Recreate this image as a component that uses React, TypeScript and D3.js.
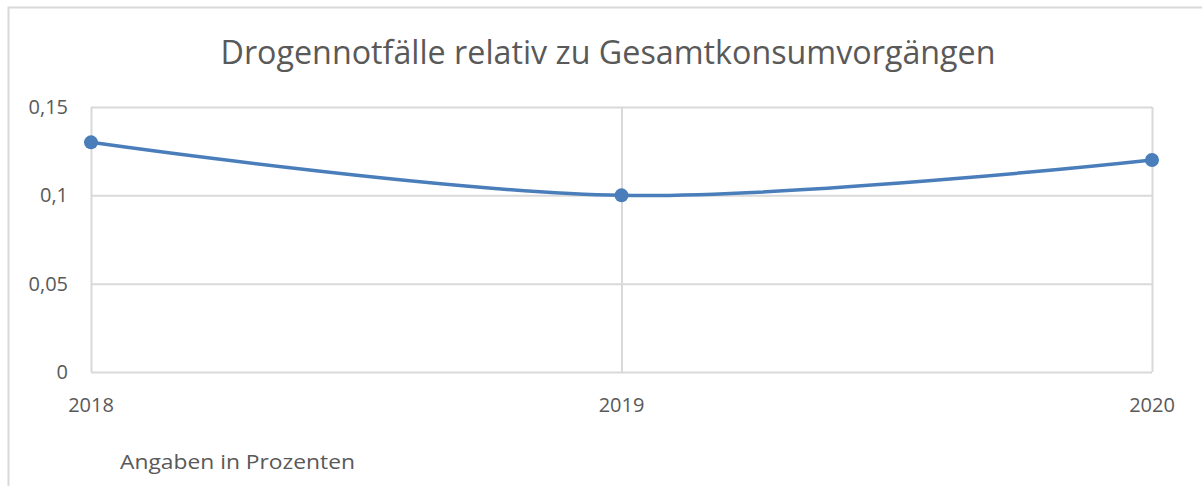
import { useRef, useEffect } from 'react';
import * as d3 from 'd3';

const WIDTH = 1202;
const HEIGHT = 486;
const MARGIN = { top: 107, right: 50, bottom: 114, left: 91 };

const TITLE = 'Drogennotfälle relativ zu Gesamtkonsumvorgängen';
const NOTE = 'Angaben in Prozenten';
const years = ['2018', '2019', '2020'];
const values = [0.13, 0.1, 0.12];
const yTicks = [0, 0.05, 0.1, 0.15];

const FONT = '"Open Sans", "Liberation Sans", sans-serif';
const TEXT = '#595959';
const GRID = '#d9d9d9';
const BLUE = '#4a7ebb';

export default function App() {
  const svgRef = useRef<SVGSVGElement>(null);

  useEffect(() => {
    const svg = d3.select(svgRef.current);
    svg.selectAll('*').remove();

    const w = WIDTH - MARGIN.left - MARGIN.right;
    const h = HEIGHT - MARGIN.top - MARGIN.bottom;

    // chart frame (runs off the right/bottom edge like the original)
    svg.append('rect')
      .attr('x', 8.5).attr('y', 7.5)
      .attr('width', WIDTH + 20).attr('height', HEIGHT + 20)
      .attr('fill', 'white').attr('stroke', GRID).attr('stroke-width', 2);

    svg.append('text')
      .attr('x', 608).attr('y', 64)
      .attr('text-anchor', 'middle')
      .attr('font-family', FONT).attr('font-size', 32)
      .attr('fill', TEXT)
      .attr('textLength', 775).attr('lengthAdjust', 'spacingAndGlyphs')
      .text(TITLE);

    const g = svg.append('g').attr('transform', `translate(${MARGIN.left},${MARGIN.top})`);

    const x = d3.scalePoint<string>().domain(years).range([0, w]);
    const y = d3.scaleLinear().domain([0, 0.15]).range([h, 0]);

    // horizontal grid
    g.append('g')
      .call(d3.axisLeft(y).tickValues(yTicks).tickSize(-w).tickFormat(() => ''))
      .call(a => a.select('.domain').remove())
      .selectAll('line').attr('stroke', GRID).attr('stroke-width', 2);

    // vertical grid at categories
    g.append('g')
      .attr('transform', `translate(0,${h})`)
      .call(d3.axisBottom(x).tickSize(-h).tickFormat(() => ''))
      .call(a => a.select('.domain').remove())
      .selectAll('line').attr('stroke', GRID).attr('stroke-width', 2);

    // y labels
    const fmt = (v: number) => String(v).replace('.', ',');
    g.append('g').selectAll('text')
      .data(yTicks)
      .join('text')
      .attr('x', -23).attr('y', d => y(d) + 7)
      .attr('text-anchor', 'end')
      .attr('font-family', FONT).attr('font-size', 20)
      .attr('fill', TEXT)
      .text(d => fmt(d));

    // x labels
    g.append('g').selectAll('text')
      .data(years)
      .join('text')
      .attr('x', d => x(d)!).attr('y', h + 40)
      .attr('text-anchor', 'middle')
      .attr('font-family', FONT).attr('font-size', 20)
      .attr('fill', TEXT)
      .text(d => d);

    const pts = years.map((yr, i) => ({ yr, v: values[i] }));
    const line = d3.line<{ yr: string; v: number }>()
      .x(d => x(d.yr)!)
      .y(d => y(d.v))
      .curve(d3.curveCardinal.tension(0));

    g.append('path')
      .datum(pts)
      .attr('fill', 'none')
      .attr('stroke', BLUE)
      .attr('stroke-width', 3.5)
      .attr('stroke-linecap', 'round')
      .attr('d', line);

    g.selectAll('circle')
      .data(pts)
      .join('circle')
      .attr('cx', d => x(d.yr)!).attr('cy', d => y(d.v))
      .attr('r', 7)
      .attr('fill', BLUE);

    svg.append('text')
      .attr('x', 120).attr('y', 469)
      .attr('font-family', FONT).attr('font-size', 20)
      .attr('fill', TEXT)
      .attr('textLength', 235).attr('lengthAdjust', 'spacingAndGlyphs')
      .text(NOTE);
  }, []);

  return (
    <svg
      ref={svgRef}
      width={WIDTH}
      height={HEIGHT}
      style={{ position: 'absolute', left: 0, top: 0, background: 'white' }}
    />
  );
}
